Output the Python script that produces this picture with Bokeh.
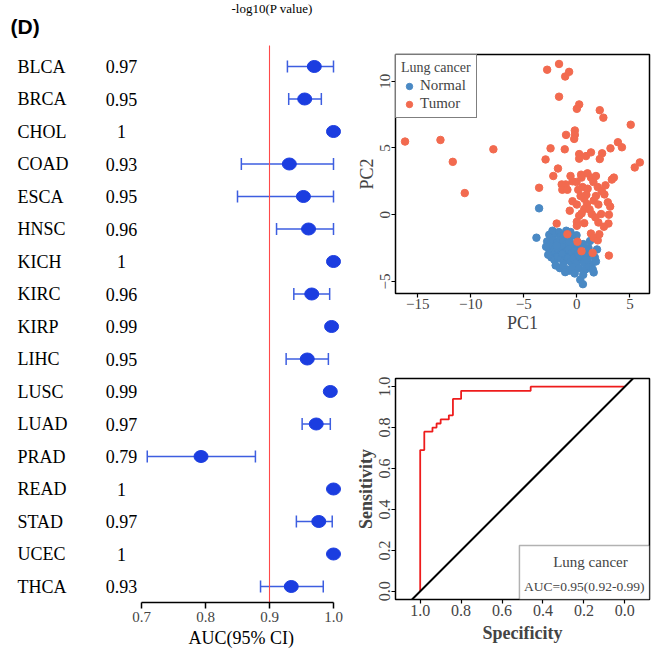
from bokeh.plotting import figure
from bokeh.layouts import row, column
from bokeh.models import (Range1d, Whisker, TeeHead, ColumnDataSource, Label, Title,
                          BoxAnnotation, Slope, Legend, LegendItem, FixedTicker,
                          PrintfTickFormatter)
from bokeh.core.properties import value
from bokeh.embed import file_html
from bokeh.resources import INLINE

SERIF = "Liberation Serif"

# ---------------- forest plot data ----------------
cancers = ["BLCA", "BRCA", "CHOL", "COAD", "ESCA", "HNSC", "KICH", "KIRC", "KIRP",
           "LIHC", "LUSC", "LUAD", "PRAD", "READ", "STAD", "UCEC", "THCA"]
auc_text = ["0.97", "0.95", "1", "0.93", "0.95", "0.96", "1", "0.96", "0.99",
            "0.95", "0.99", "0.97", "0.79", "1", "0.97", "1", "0.93"]
auc = [0.970, 0.955, 1.0, 0.931, 0.953, 0.961, 1.0, 0.966, 0.997,
       0.959, 0.995, 0.973, 0.793, 1.0, 0.977, 1.0, 0.934]
ci_low = [0.928, 0.930, None, 0.856, 0.850, 0.911, None, 0.938, None,
          0.926, None, 0.951, 0.709, None, 0.942, None, 0.886]
ci_high = [1.0, 0.981, None, 1.0, 1.0, 1.0, None, 0.994, None,
           0.992, None, 0.995, 0.878, None, 0.998, None, 0.984]
forest_ticks = [0.7, 0.8, 0.9, 1.0]
ref_line = 0.9

# ---------------- PCA data ----------------
normal_pc1 = [-3.56, -3.81, -0.03, 1.24, 0.32, 0.57, -0.67, 1.59,
              -2.6, -2.3, -2.0, -1.7, -1.5, -1.2, -0.9, -0.5,
              -2.8, -2.5, -2.2, -1.9, -1.6, -1.3, -1.0, -0.7, -0.4, 0.0, 0.3,
              -2.6, -2.3, -2.0, -1.7, -1.4, -1.1, -0.8, -0.5, -0.2, 0.1, 0.5, 0.9, 1.3, 1.7, 1.9,
              -2.4, -2.1, -1.8, -1.5, -1.2, -0.9, -0.6, -0.3, 0.0, 0.4, 0.7, 1.0, 1.4, 1.8,
              -2.0, -1.6, -1.3, -0.9, -0.4, 0.2, 0.8, 1.2, 1.5, -1.1, -0.2, 0.6,
              -1.9, -1.0, 0.6, 1.1, -2.9, -2.7, -0.6, -1.4, 0.2]
normal_pc2 = [0.48, -1.72, -1.54, -1.97, -4.87, -5.2, -4.19, -4.32,
              -1.5, -1.2, -1.4, -1.3, -1.6, -1.5, -1.7, -1.6,
              -2.0, -2.2, -1.9, -2.1, -1.9, -2.0, -2.2, -2.0, -2.3, -2.1, -2.4,
              -2.6, -2.8, -2.5, -2.7, -2.4, -2.8, -2.6, -2.9, -2.7, -2.9, -2.8, -3.0, -2.9, -3.2, -2.6,
              -3.2, -3.4, -3.1, -3.3, -3.5, -3.2, -3.5, -3.3, -3.6, -3.3, -3.6, -3.4, -3.7, -3.5,
              -3.8, -4.0, -3.8, -4.1, -3.9, -4.0, -4.1, -3.9, -4.1, -4.3, -4.4, -4.5,
              -2.3, -1.2, -2.2, -2.5, -2.4, -3.0, -1.3, -2.9, -3.1]
tumor_pc1 = [-16.2, -12.86, -11.7, -10.57, -7.87,
             -2.8, -1.68, -1.1, -0.73, -1.68,
             0.22, 0.0, 2.16, 2.5, 5.08,
             -0.19, -0.19, -1.02, -0.25, -2.48,
             -1.14, -2.95, 0.22, 0.86, 0.22,
             1.33, 2.16, 2.38, 3.17, 3.87,
             4.25, 5.46, 5.94, -1.78, -2.22,
             -3.56, -1.43, -1.05, -1.37, -0.89,
             -0.41, -0.03, 0.44, 0.54, 0.13,
             1.33, 1.56, 1.02, 1.97, 2.35,
             2.6, 3.3, 3.49, -0.41, 0.0,
             0.7, 0.95, 1.59, 2.03, 2.92,
             3.14, -0.67, 0.7, 0.22, 1.4,
             2.29, 3.02, 0.0, 0.7, 2.03,
             2.98, -1.9, 0.0, 1.33, 1.59,
             1.97, -0.89, 2.12, 1.49, 0.44,
             3.02, 0.06, 0.9, 1.8, 0.4,
             1.0, 1.8, -0.6, 2.7, 1.2,
             0.35, 1.75, 2.55, 0.45]
tumor_pc2 = [5.48, 5.6, 3.96, 1.62, 4.9,
             10.86, 11.29, 10.35, 10.7, 8.84,
             8.26, 7.93, 7.83, 7.27, 6.74,
             6.31, 5.98, 5.98, 5.68, 4.97,
             4.9, 4.14, 4.54, 4.39, 4.2,
             4.67, 4.17, 4.6, 4.97, 5.43,
             5.05, 3.54, 3.92, 3.46, 2.9,
             2.02, 2.27, 2.27, 1.87, 1.87,
             2.5, 2.45, 2.78, 2.07, 1.87,
             2.78, 2.45, 1.95, 2.07, 1.77,
             1.52, 2.63, 2.78, 1.01, 0.76,
             1.19, 0.81, 1.06, 0.76, 0.93,
             0.61, 0.3, 0.43, -0.08, 0.05,
             0.05, 0.0, -0.53, -0.63, -0.58,
             -0.66, -0.66, -0.83, -1.41, -1.72,
             -1.92, -1.46, -1.46, -2.86, -2.73,
             -3.06, -2.02, 1.5, 1.4, 3.0,
             3.1, 2.9, 2.9, 2.2, 0.4,
             1.4, -0.2, -0.9, 0.1]
pca_xticks = [-15, -10, -5, 0, 5]
pca_yticks = [-5, 0, 5, 10]
pca_groups = ["Normal", "Tumor"]
pca_legend_title = "Lung cancer"

# ---------------- ROC data ----------------
roc_spec = [1.0, 1.0, 0.98, 0.94, 0.92, 0.90, 0.86, 0.84, 0.80, 0.46, 0.0]
roc_sens = [0.0, 0.69, 0.78, 0.80, 0.82, 0.84, 0.86, 0.94, 0.98, 1.0, 1.0]
roc_ticks = [0.0, 0.2, 0.4, 0.6, 0.8, 1.0]
roc_title = "Lung cancer"
roc_auc_text = "AUC=0.95(0.92-0.99)"

# =============== forest plot ===============
W1, H = 348, 650
PX = 640.0                      # pixels per AUC unit
x0 = 0.7 - 141 / PX
x1 = x0 + W1 / PX
row_step = 32.5
n = len(cancers)
bot_b = 48
frame_h = H - bot_b
y_top = (n - 1) + 66 / row_step
y_bot = y_top - frame_h / row_step

fp = figure(width=W1, height=H, output_backend="svg", toolbar_location=None,
            x_range=Range1d(x0, x1), y_range=Range1d(y_bot, y_top),
            min_border_left=0, min_border_right=0, min_border_top=0,
            min_border_bottom=bot_b)
fp.outline_line_color = None
fp.grid.visible = False
fp.yaxis.visible = False

ypos = [n - 1 - i for i in range(n)]
src = ColumnDataSource(dict(name=cancers, txt=auc_text, auc=auc, y=ypos,
                            xn=[x0 + 17 / PX] * n, xv=[x0 + 121 / PX] * n))
ci_rows = [i for i in range(n) if ci_low[i] is not None]
ci_src = ColumnDataSource(dict(y=[ypos[i] for i in ci_rows],
                               lo=[ci_low[i] for i in ci_rows],
                               hi=[ci_high[i] for i in ci_rows]))

# reference line from the axis up to just above the first row
fp.segment(x0=[ref_line], y0=[y_bot], x1=[ref_line], y1=[y_top - 45 / row_step],
           line_color="#ff4a4a", line_width=1.1)
wcol = "#3d5ee0"
fp.add_layout(Whisker(source=ci_src, base="y", lower="lo", upper="hi", dimension="width",
                      line_color=wcol, line_width=1.5,
                      lower_head=TeeHead(size=12, line_color=wcol, line_width=1.5),
                      upper_head=TeeHead(size=12, line_color=wcol, line_width=1.5)))
fp.ellipse(x="auc", y="y", width=14, height=12, width_units="screen",
           height_units="screen", source=src, fill_color="#1b3de0",
           line_color="#1b3de0")
fp.text(x="xn", y="y", text="name", source=src, text_font=value(SERIF),
        text_font_size="18px", text_align="left", text_baseline="middle",
        text_color="black")
fp.text(x="xv", y="y", text="txt", source=src, text_font=value(SERIF),
        text_font_size="18px", text_align="center", text_baseline="middle",
        text_color="black")
fp.text(x=[x0 + 10 / PX], y=[y_top - 26 / row_step], text=["(D)"],
        text_font=value("Liberation Sans"), text_font_style="bold",
        text_font_size="21px", text_baseline="middle", text_color="black")
fp.text(x=[x0 + 231 / PX], y=[y_top - 8 / row_step], text=["-log10(P value)"],
        text_font=value(SERIF), text_font_size="13px", text_baseline="middle",
        text_color="black")

ax = fp.xaxis[0]
ax.bounds = (forest_ticks[0], forest_ticks[-1])
ax.ticker = FixedTicker(ticks=forest_ticks)
ax.formatter = PrintfTickFormatter(format="%.1f")
ax.minor_tick_line_color = None
ax.major_tick_in = 0
ax.major_tick_out = 6
ax.axis_line_width = 1.5
ax.major_tick_line_width = 1.5
ax.major_label_text_font = SERIF
ax.major_label_text_font_size = "15px"
ax.major_label_standoff = 3
fp.add_layout(Title(text="AUC(95% CI)", align="left", offset=188, standoff=3,
                    text_font=SERIF, text_font_size="18px", text_font_style="normal",
                    text_color="black"), "below")

# =============== PCA plot ===============
W2 = 304
H_pca = 345
pp = figure(width=W2, height=H_pca, output_backend="svg", toolbar_location=None,
            x_range=Range1d(-17.1, 6.85), y_range=Range1d(-5.9, 12.0),
            min_border_left=47, min_border_right=3, min_border_top=54,
            min_border_bottom=52)
pp.grid.visible = False
pp.outline_line_color = "black"
pp.outline_line_width = 1.5
rn = pp.scatter(normal_pc1, normal_pc2, size=7.5, color="#4a89c4")
rt = pp.scatter(tumor_pc1, tumor_pc2, size=7.5, color="#f26a4f")
pp.xaxis.ticker = FixedTicker(ticks=pca_xticks)
pp.yaxis.ticker = FixedTicker(ticks=pca_yticks)
pp.xaxis.axis_label = "PC1"
pp.yaxis.axis_label = "PC2"
pp.yaxis.major_label_orientation = "vertical"

leg = Legend(items=[LegendItem(label=pca_groups[0], renderers=[rn]),
                    LegendItem(label=pca_groups[1], renderers=[rt])],
             title=pca_legend_title, location="top_left")
leg.margin = 0
leg.padding = 5
leg.spacing = 1
leg.border_line_color = "black"
leg.border_line_width = 1.8
leg.glyph_width = 16
leg.glyph_height = 16
leg.label_height = 16
leg.label_standoff = 3
leg.title_standoff = 1
leg.title_text_font = SERIF
leg.title_text_font_size = "14px"
leg.title_text_font_style = "normal"
leg.label_text_font = SERIF
leg.label_text_font_size = "15px"
pp.add_layout(leg)

# =============== ROC plot ===============
H_roc = H - H_pca
xr = Range1d(1.1207, -0.1207)
yr = Range1d(-0.04, 1.04)
rp = figure(width=W2, height=H_roc, output_backend="svg", toolbar_location=None,
            x_range=xr, y_range=yr,
            min_border_left=47, min_border_right=3, min_border_top=33,
            min_border_bottom=51)
rp.grid.visible = False
rp.outline_line_color = "black"
rp.outline_line_width = 1.5
rp.add_layout(Slope(gradient=-1, y_intercept=1, line_color="black", line_width=2))
rp.step(roc_spec, roc_sens, mode="after", line_color="#ee1c1c", line_width=1.8)
box_left, box_top = 0.515, 0.224
rp.add_layout(BoxAnnotation(left=box_left, right=xr.end, bottom=yr.start, top=box_top,
                            fill_color="white", fill_alpha=1.0, line_color="black",
                            line_width=1.5))
rp.add_layout(Label(x=0.168, y=box_top - 0.083, text=roc_title, text_font=SERIF,
                    text_font_size="15px", text_align="center", text_baseline="middle"))
rp.add_layout(Label(x=0.198, y=box_top - 0.200, text=roc_auc_text, text_font=SERIF,
                    text_font_size="13.5px", text_align="center", text_baseline="middle"))
rp.xaxis.ticker = FixedTicker(ticks=roc_ticks)
rp.yaxis.ticker = FixedTicker(ticks=roc_ticks)
rp.xaxis.formatter = PrintfTickFormatter(format="%.1f")
rp.yaxis.formatter = PrintfTickFormatter(format="%.1f")
rp.yaxis.major_label_orientation = "vertical"
rp.xaxis.axis_label = "Specificity"
rp.yaxis.axis_label = "Sensitivity"

for f, tsize in ((pp, "15px"), (rp, "16px")):
    for a in (f.xaxis[0], f.yaxis[0]):
        a.axis_line_color = None
        a.minor_tick_line_color = None
        a.major_tick_in = 0
        a.major_tick_out = 4
        a.major_tick_line_width = 1.2
        a.major_label_standoff = 1
        a.major_label_text_font = SERIF
        a.major_label_text_font_size = tsize
        a.axis_label_text_font = SERIF
        a.axis_label_text_font_size = "18px"
        a.axis_label_standoff = 1
        a.axis_label_text_font_style = "bold" if f is rp else "normal"
rp.xaxis.axis_label_standoff = 4

layout = row(fp, column(pp, rp, spacing=0), spacing=0)
open("out.html", "w").write(file_html(layout, INLINE))
